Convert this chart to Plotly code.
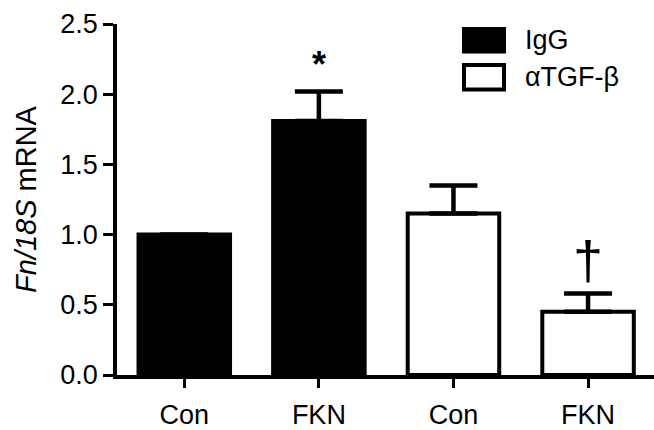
import plotly.graph_objects as go

categories = ["Con", "FKN", "Con", "FKN"]
groups = ["IgG", "IgG", "αTGF-β", "αTGF-β"]
values = [1.0, 1.81, 1.15, 0.45]
errors = [0.0, 0.21, 0.20, 0.13]
marks = ["", "*", "", "†"]
y_ticks = [0.0, 0.5, 1.0, 1.5, 2.0, 2.5]
y_tick_labels = ["0.0", "0.5", "1.0", "1.5", "2.0", "2.5"]

FONT = "Arial, Liberation Sans, sans-serif"
W, H = 654, 430
L, R, T, B = 117, 0, 24, 47

fills = ["black" if g == "IgG" else "white" for g in groups]
xs = list(range(len(categories)))

fig = go.Figure()
fig.add_trace(go.Bar(
    x=xs, y=values, width=0.68,
    marker=dict(color=fills, line=dict(color="black", width=4)),
    error_y=dict(type="data", array=[e if e > 0 else None for e in errors],
                 symmetric=False, arrayminus=[0] * len(errors),
                 color="black", thickness=4.5, width=24,
                 visible=True),
    showlegend=False,
    hoverinfo="skip",
))

# significance marks
for i, (m, v, e) in enumerate(zip(marks, values, errors)):
    if m == "*":
        fig.add_annotation(x=i, y=v + e, text="<b>*</b>", showarrow=False,
                           yanchor="bottom", yshift=4,
                           font=dict(family=FONT, size=36, color="black"))
    elif m:
        fig.add_annotation(x=i, y=v + e, text=m, showarrow=False,
                           yanchor="bottom", yshift=2,
                           font=dict(family=FONT, size=54, color="black"))

# custom legend
pw, ph = W - L - R, H - T - B
def px(x):
    return (x - L) / pw
def py(y):
    return (H - B - y) / ph

legend_items = [("IgG", "black", 29, 52), ("αTGF-β", "white", 66, 91)]
for name, fill, y0, y1 in legend_items:
    fig.add_shape(type="rect", xref="paper", yref="paper",
                  x0=px(464), x1=px(504), y0=py(y1), y1=py(y0),
                  fillcolor=fill, line=dict(color="black", width=4))
    fig.add_annotation(xref="paper", yref="paper", x=px(523), y=py((y0 + y1) / 2),
                       text=name, showarrow=False, xanchor="left", yanchor="middle",
                       font=dict(family=FONT, size=27, color="black"))

fig.update_layout(
    width=W, height=H,
    margin=dict(l=L, r=R, t=T, b=B, pad=0),
    plot_bgcolor="white", paper_bgcolor="white",
    font=dict(family=FONT, color="black"),
    bargap=0.3,
)
fig.update_xaxes(
    range=[-0.5, 3.49], tickmode="array", tickvals=xs, ticktext=categories,
    showline=True, linecolor="black", linewidth=3.5,
    ticks="outside", ticklen=9, tickwidth=3, tickcolor="black",
    tickfont=dict(family=FONT, size=27, color="black"),
    ticklabelstandoff=4,
    showgrid=False, zeroline=False,
)
fig.update_yaxes(
    range=[0, 2.5], tickmode="array", tickvals=y_ticks, ticktext=y_tick_labels,
    showline=True, linecolor="black", linewidth=3.5,
    ticks="outside", ticklen=10, tickwidth=3, tickcolor="black",
    tickfont=dict(family=FONT, size=27, color="black"),
    showgrid=False, zeroline=False,
    title=dict(text="<i>Fn/18S</i> mRNA", font=dict(family=FONT, size=29, color="black"), standoff=16),
    automargin=False,
)

fig.write_html("out.html", config={"displayModeBar": False},
               post_script="document.body.style.margin='0';document.body.style.overflow='hidden';")
